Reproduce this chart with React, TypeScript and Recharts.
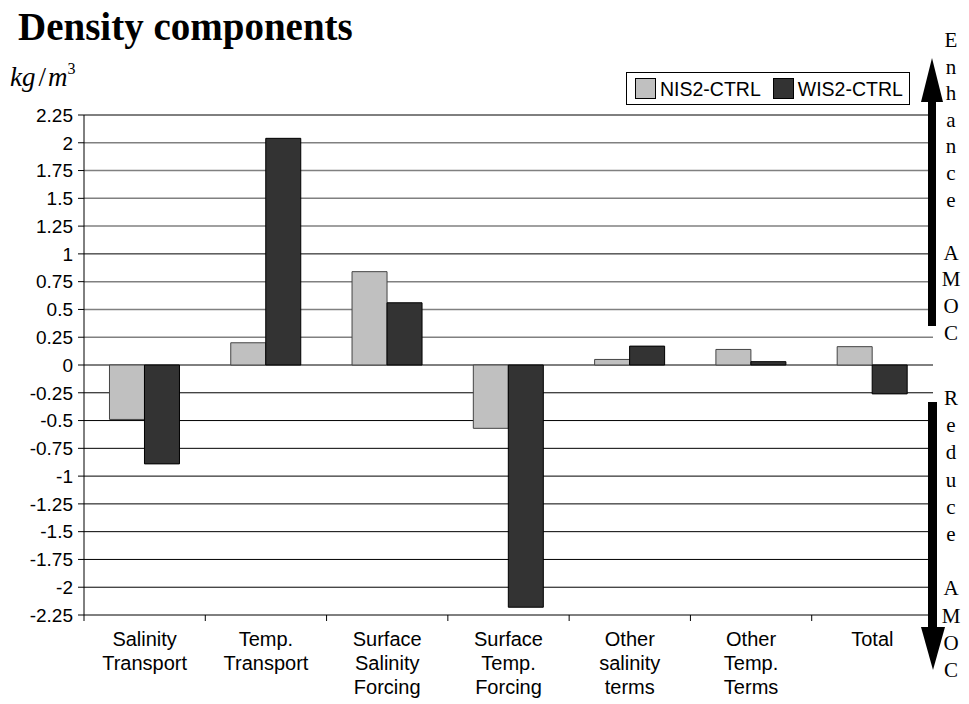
import React from 'react';
import { BarChart, Bar, XAxis, YAxis, CartesianGrid } from 'recharts';

const categories = [
  'Salinity\nTransport',
  'Temp.\nTransport',
  'Surface\nSalinity\nForcing',
  'Surface\nTemp.\nForcing',
  'Other\nsalinity\nterms',
  'Other\nTemp.\nTerms',
  'Total',
];
const nis2Ctrl = [-0.49, 0.2, 0.84, -0.57, 0.05, 0.14, 0.165];
const wis2Ctrl = [-0.89, 2.04, 0.56, -2.18, 0.17, 0.03, -0.26];
const seriesNames = ['NIS2-CTRL', 'WIS2-CTRL'];
const yTicks = [2.25, 2, 1.75, 1.5, 1.25, 1, 0.75, 0.5, 0.25, 0, -0.25, -0.5, -0.75, -1, -1.25, -1.5, -1.75, -2, -2.25];
const grayGridValues = [2, 1.75, 1.5, 1.25, 0.75, 0.5, 0.25];
const blackGridValues = [2.25, 1, 0, -0.25, -0.5, -0.75, -1, -1.25, -1.5, -1.75, -2];
const enhanceLetters = ['E', 'n', 'h', 'a', 'n', 'c', 'e', '', 'A', 'M', 'O', 'C'];
const reduceLetters = ['R', 'e', 'd', 'u', 'c', 'e', '', 'A', 'M', 'O', 'C'];
const titleText = 'Density components';

const data = categories.map((name, i) => ({ name, nis: nis2Ctrl[i], wis: wis2Ctrl[i] }));

const W = 969;
const H = 704;
const MARGIN = { top: 115, right: 36, left: 0, bottom: 0 };
const Y_AXIS_W = 84;
const X_AXIS_H = 89;
const PLOT_W = W - MARGIN.right - MARGIN.left - Y_AXIS_W;
const SANS = '"Liberation Sans", Arial, sans-serif';
const SERIF = '"Liberation Serif", "Times New Roman", serif';
const NIS_FILL = '#C0C0C0';
const WIS_FILL = '#333333';

const CategoryTick = (props: any) => {
  const { x, y, payload, index } = props;
  const step = PLOT_W / categories.length;
  const lines = String(payload.value).split('\n');
  return (
    <g>
      <line x1={x - step / 2} x2={x - step / 2} y1={y} y2={y + 6} stroke="#000" />
      {index === categories.length - 1 && (
        <line x1={x + step / 2} x2={x + step / 2} y1={y} y2={y + 6} stroke="#000" />
      )}
      <text x={x} y={y + 31} textAnchor="middle" fontFamily={SANS} fontSize={20} fill="#000">
        {lines.map((l, i) => (
          <tspan key={i} x={x} dy={i === 0 ? 0 : 24}>
            {l}
          </tspan>
        ))}
      </text>
    </g>
  );
};

export default function App() {
  return (
    <div style={{ position: 'relative', width: W, height: H, background: '#fff' }}>
      <style>{`body{margin:0;}`}</style>
      <BarChart
        width={W}
        height={H}
        data={data}
        margin={MARGIN}
        barCategoryGap="21%"
        barGap={0}
      >
        <CartesianGrid vertical={false} horizontalValues={grayGridValues} stroke="#808080" strokeWidth={1.5} />
        <CartesianGrid vertical={false} horizontalValues={blackGridValues} stroke="#000" strokeWidth={1} />
        <XAxis
          dataKey="name"
          height={X_AXIS_H}
          interval={0}
          tickLine={false}
          tickSize={0}
          tickMargin={0}
          axisLine={{ stroke: '#000' }}
          tick={<CategoryTick />}
        />
        <YAxis
          width={Y_AXIS_W}
          type="number"
          domain={[-2.25, 2.25]}
          ticks={yTicks}
          interval={0}
          allowDataOverflow
          axisLine={{ stroke: '#000' }}
          tickLine={{ stroke: '#000' }}
          tickSize={6}
          tickMargin={5}
          tick={{ fill: '#000', fontSize: 19, fontFamily: SANS }}
        />
        <Bar dataKey="nis" name={seriesNames[0]} fill={NIS_FILL} stroke="#444" strokeWidth={1} isAnimationActive={false} />
        <Bar dataKey="wis" name={seriesNames[1]} fill={WIS_FILL} stroke="#000" strokeWidth={1} isAnimationActive={false} />
      </BarChart>

      {/* Legend */}
      <div
        style={{
          position: 'absolute',
          left: 626,
          top: 72,
          width: 282,
          height: 31,
          border: '1px solid #000',
          background: '#fff',
          display: 'flex',
          alignItems: 'center',
          fontFamily: SANS,
          fontSize: 19.5,
          color: '#000',
          boxSizing: 'content-box',
        }}
      >
        {seriesNames.map((n, i) => (
          <div key={n} style={{ display: 'flex', alignItems: 'center', marginLeft: i === 0 ? 8 : 12 }}>
            <div
              style={{
                width: 19,
                height: 19,
                background: i === 0 ? NIS_FILL : WIS_FILL,
                border: '1px solid #000',
                marginRight: 4,
              }}
            />
            <span style={{ lineHeight: '20px' }}>{n}</span>
          </div>
        ))}
      </div>

      {/* Overlay: title, unit, arrows */}
      <svg width={W} height={H} style={{ position: 'absolute', left: 0, top: 0, pointerEvents: 'none' }}>
        <text x={18} y={40} fontFamily={SERIF} fontWeight="bold" fontSize={39} fill="#000">
          {titleText}
        </text>
        <text x={10} y={86} fontFamily={SERIF} fontSize={27} fill="#000">
          <tspan fontStyle="italic">kg</tspan>
          <tspan dx={3}>/</tspan>
          <tspan dx={2} fontStyle="italic">m</tspan>
          <tspan dy={-12} fontSize={16}>3</tspan>
        </text>

        <rect x={928} y={100} width={8} height={226} fill="#000" />
        <polygon points="921,102 943,102 932,58" fill="#000" />
        <rect x={928} y={402} width={9} height={227} fill="#000" />
        <polygon points="921,627 945,627 933,670" fill="#000" />

        {enhanceLetters.map((l, i) => (
          <text key={'e' + i} x={951} y={47 + i * 26.6} textAnchor="middle" fontFamily={SERIF} fontSize={21} fill="#000">
            {l}
          </text>
        ))}
        {reduceLetters.map((l, i) => (
          <text key={'r' + i} x={951} y={405 + i * 27.2} textAnchor="middle" fontFamily={SERIF} fontSize={21} fill="#000">
            {l}
          </text>
        ))}
      </svg>
    </div>
  );
}
